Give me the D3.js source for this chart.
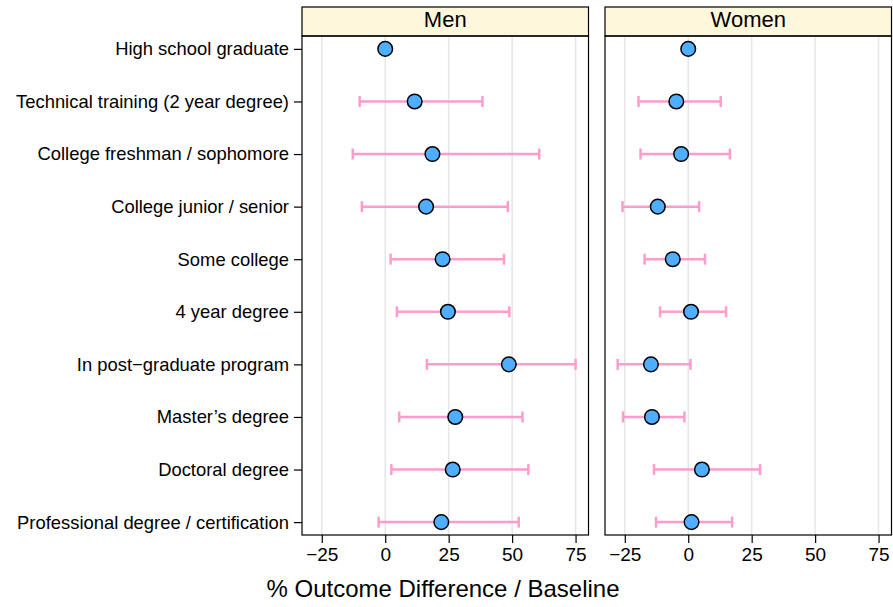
<!DOCTYPE html>
<html>
<head>
<meta charset="utf-8">
<script src="https://cdn.jsdelivr.net/npm/d3@7"></script>
<style>
  html, body { margin: 0; padding: 0; background: #fff; }
  svg { display: block; font-family: "Liberation Sans", Arial, Helvetica, sans-serif; }
</style>
</head>
<body>
<svg id="chart" width="893" height="607"></svg>
<script>
const categories = [
  "High school graduate",
  "Technical training (2 year degree)",
  "College freshman / sophomore",
  "College junior / senior",
  "Some college",
  "4 year degree",
  "In post\u2212graduate program",
  "Master\u2019s degree",
  "Doctoral degree",
  "Professional degree / certification"
];
const panels = ["Men", "Women"];
const menEst   = [0, 11.6, 18.6, 16.1, 22.6, 24.7, 48.7, 27.6, 26.6, 22.1];
const menLow   = [null, -10.1, -12.8, -9.2, 2.1, 4.6, 16.4, 5.5, 2.4, -2.6];
const menHigh  = [null, 38.3, 60.7, 48.3, 46.8, 48.9, 75.0, 54.1, 56.4, 52.6];
const womenEst  = [0, -4.7, -2.8, -12.0, -6.1, 1.1, -14.7, -14.3, 5.4, 1.3];
const womenLow  = [null, -19.6, -18.8, -25.9, -17.2, -11.1, -27.8, -25.7, -13.5, -12.7];
const womenHigh = [null, 12.8, 16.4, 4.3, 6.6, 14.9, 0.9, -1.5, 28.3, 17.3];
const xTicks = [-25, 0, 25, 50, 75];
const xDomain = [-32.8, 80.1];
const xTitle = "% Outcome Difference / Baseline";

const series = [
  { name: panels[0], est: menEst, low: menLow, high: menHigh },
  { name: panels[1], est: womenEst, low: womenLow, high: womenHigh }
];

const svg = d3.select("#chart");
const panelLefts = [302, 605];
const panelW = 286.5;
const stripTop = 7, stripH = 29;
const plotTop = 36, plotBottom = 535;

const y = d3.scalePoint().domain(categories).range([plotTop, plotBottom]).padding(0.245);

const fmt = d => (d < 0 ? "\u2212" + Math.abs(d) : String(d));

series.forEach((s, i) => {
  const x0 = panelLefts[i];
  const x = d3.scaleLinear().domain(xDomain).range([x0, x0 + panelW]);
  const g = svg.append("g");

  // gridlines
  g.selectAll("line.grid").data(xTicks).join("line")
    .attr("x1", d => x(d)).attr("x2", d => x(d))
    .attr("y1", plotTop).attr("y2", plotBottom)
    .attr("stroke", "#e6e6e6").attr("stroke-width", 1.5);

  // strip
  g.append("rect").attr("x", x0).attr("y", stripTop).attr("width", panelW).attr("height", stripH)
    .attr("fill", "#fff7dc").attr("stroke", "#000").attr("stroke-width", 1.2);
  g.append("text").attr("x", x0 + panelW / 2).attr("y", 27)
    .attr("text-anchor", "middle").attr("font-size", 22).text(s.name);

  // error bars
  const rows = categories.map((c, k) => ({ c, est: s.est[k], low: s.low[k], high: s.high[k] }));
  const withCI = rows.filter(r => r.low !== null);
  const eb = g.selectAll("g.eb").data(withCI).join("g").attr("stroke", "#ff9ccc").attr("stroke-width", 2.5);
  eb.append("line").attr("x1", d => x(d.low)).attr("x2", d => x(d.high))
    .attr("y1", d => y(d.c)).attr("y2", d => y(d.c));
  eb.append("line").attr("x1", d => x(d.low)).attr("x2", d => x(d.low))
    .attr("y1", d => y(d.c) - 5.5).attr("y2", d => y(d.c) + 5.5);
  eb.append("line").attr("x1", d => x(d.high)).attr("x2", d => x(d.high))
    .attr("y1", d => y(d.c) - 5.5).attr("y2", d => y(d.c) + 5.5);

  // points
  g.selectAll("circle").data(rows).join("circle")
    .attr("cx", d => x(d.est)).attr("cy", d => y(d.c)).attr("r", 7.3)
    .attr("fill", "#4faeff").attr("stroke", "#000").attr("stroke-width", 1.5);

  // panel border
  g.append("rect").attr("x", x0).attr("y", plotTop).attr("width", panelW).attr("height", plotBottom - plotTop)
    .attr("fill", "none").attr("stroke", "#000").attr("stroke-width", 1.2);

  // x axis
  const xa = g.append("g").attr("transform", `translate(0,${plotBottom})`)
    .call(d3.axisBottom(x).tickValues(xTicks).tickSize(8).tickPadding(5).tickFormat(fmt));
  xa.select(".domain").remove();
  xa.selectAll(".tick line").attr("stroke", "#000").attr("stroke-width", 1.2);
  xa.selectAll(".tick text").attr("font-size", 19).attr("fill", "#000")
    .attr("font-family", "'Liberation Sans', Arial, sans-serif");

  if (i === 0) {
    const ya = g.append("g").attr("transform", `translate(${x0},0)`)
      .call(d3.axisLeft(y).tickSize(8).tickPadding(5));
    ya.select(".domain").remove();
    ya.selectAll(".tick line").attr("stroke", "#000").attr("stroke-width", 1.2);
    ya.selectAll(".tick text").attr("font-size", 18.4).attr("fill", "#000")
      .attr("font-family", "'Liberation Sans', Arial, sans-serif");
  }
});

svg.append("text").attr("x", 443).attr("y", 597).attr("text-anchor", "middle")
  .attr("font-size", 24).text(xTitle);
</script>
</body>
</html>
